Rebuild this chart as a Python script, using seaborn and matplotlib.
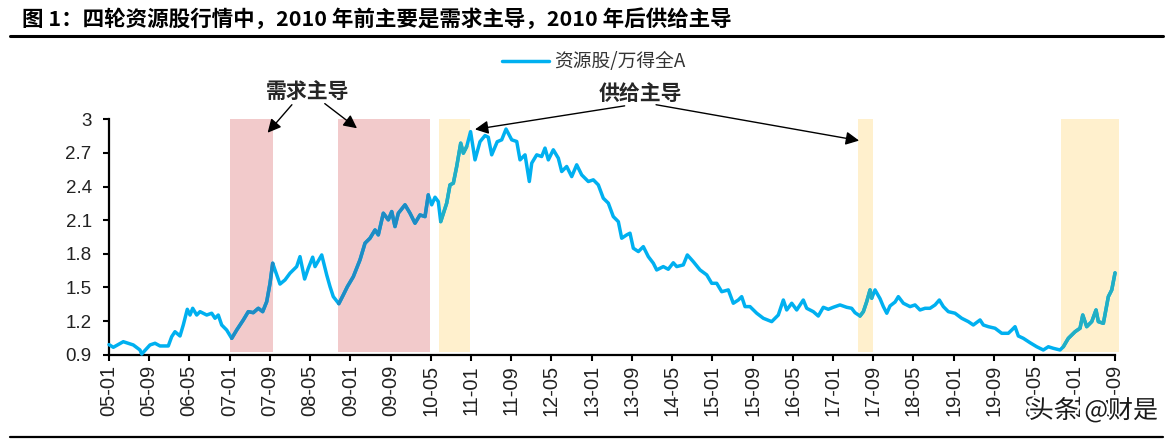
import numpy as np
import pandas as pd
import matplotlib
matplotlib.use("Agg")
import matplotlib.pyplot as plt
import seaborn as sns
from matplotlib.lines import Line2D
import matplotlib.patheffects as pe

# ---------------- data ----------------
# months elapsed since 2005-01-01
month_offset = [
    0.0, 0.86, 2.84, 4.83, 6.16, 6.50, 8.15, 9.15, 10.14, 11.79,
    12.47, 13.12, 14.12, 14.77, 15.57, 16.11, 16.64, 17.44, 18.10, 19.43,
    20.42, 21.08, 21.73, 22.41, 23.40, 24.40, 25.39, 26.71, 27.70, 28.69,
    29.69, 30.56, 31.36, 32.02, 32.55, 33.01, 34.00, 35.00, 35.99, 37.32,
    37.98, 38.90, 39.63, 40.50, 40.97, 42.30, 42.95, 43.29, 43.95, 44.60,
    45.70, 46.59, 47.40, 48.58, 49.91, 50.91, 51.90, 52.90, 53.55, 54.55,
    55.54, 56.22, 56.87, 57.53, 58.86, 59.86, 60.85, 61.84, 62.84, 63.49,
    64.17, 64.83, 65.48, 65.96, 67.15, 67.81, 68.47, 69.14, 69.94, 70.46,
    71.13, 71.90, 72.78, 73.77, 74.77, 75.42, 76.10, 77.20, 78.09, 78.95,
    80.08, 81.08, 81.73, 82.73, 83.58, 84.06, 85.05, 86.04, 86.70, 87.36,
    88.35, 89.35, 90.02, 91.01, 92.01, 93.00, 94.00, 95.31, 96.31, 97.30,
    98.29, 99.29, 100.28, 101.28, 101.95, 102.95, 103.60, 104.26, 105.26, 106.25,
    107.24, 108.24, 108.91, 110.22, 111.21, 112.21, 112.89, 114.20, 115.00, 116.19,
    117.53, 118.86, 119.85, 120.84, 121.84, 123.15, 124.14, 125.14, 125.81, 126.47,
    127.46, 128.80, 130.11, 131.78, 133.09, 134.09, 134.76, 135.76, 136.75, 138.06,
    138.74, 140.05, 141.04, 142.04, 143.03, 144.02, 145.36, 146.69, 147.68, 148.34,
    149.34, 150.00, 150.67, 151.33, 151.67, 152.33, 153.32, 153.98, 154.66, 155.31,
    156.31, 156.96, 157.96, 159.29, 160.28, 161.27, 162.27, 163.26, 164.26, 165.11,
    165.91, 166.90, 168.23, 169.56, 170.88, 171.87, 173.21, 173.86, 174.86, 176.19,
    177.52, 178.83, 179.51, 180.17, 180.82, 181.82, 183.15, 184.48, 185.79, 186.79,
    187.78, 189.11, 189.77, 190.76, 192.10, 193.09, 193.63, 194.42, 195.42, 196.27,
    196.73, 197.73, 198.72, 199.40, 200.05,
]
ratio = [
    0.990, 0.966, 1.016, 0.987, 0.942, 0.906, 0.987, 1.002, 0.978, 0.978,
    1.061, 1.105, 1.067, 1.165, 1.305, 1.254, 1.314, 1.254, 1.284, 1.254,
    1.270, 1.225, 1.254, 1.165, 1.120, 1.046, 1.120, 1.210, 1.284, 1.275,
    1.314, 1.284, 1.373, 1.537, 1.716, 1.656, 1.530, 1.567, 1.627, 1.686,
    1.775, 1.575, 1.671, 1.770, 1.686, 1.790, 1.671, 1.612, 1.507, 1.418,
    1.355, 1.433, 1.507, 1.596, 1.746, 1.895, 1.939, 2.013, 1.969, 2.162,
    2.103, 2.177, 2.043, 2.162, 2.237, 2.162, 2.073, 2.147, 2.132, 2.326,
    2.237, 2.305, 2.266, 2.087, 2.252, 2.415, 2.430, 2.579, 2.787, 2.698,
    2.757, 2.890, 2.638, 2.800, 2.855, 2.840, 2.683, 2.800, 2.817, 2.913,
    2.817, 2.802, 2.638, 2.683, 2.445, 2.609, 2.683, 2.668, 2.743, 2.638,
    2.728, 2.653, 2.534, 2.579, 2.489, 2.594, 2.504, 2.445, 2.460, 2.415,
    2.296, 2.252, 2.132, 2.087, 1.939, 1.969, 1.984, 1.850, 1.820, 1.864,
    1.775, 1.716, 1.656, 1.686, 1.662, 1.720, 1.686, 1.701, 1.790, 1.730,
    1.656, 1.612, 1.537, 1.537, 1.462, 1.478, 1.359, 1.388, 1.418, 1.329,
    1.329, 1.270, 1.225, 1.195, 1.254, 1.388, 1.299, 1.359, 1.299, 1.388,
    1.314, 1.284, 1.245, 1.323, 1.305, 1.323, 1.344, 1.323, 1.314, 1.275,
    1.245, 1.284, 1.373, 1.478, 1.404, 1.478, 1.400, 1.329, 1.270, 1.335,
    1.370, 1.418, 1.359, 1.329, 1.344, 1.299, 1.314, 1.314, 1.344, 1.388,
    1.329, 1.284, 1.270, 1.225, 1.195, 1.165, 1.210, 1.165, 1.150, 1.136,
    1.091, 1.091, 1.120, 1.150, 1.067, 1.046, 1.007, 0.971, 0.942, 0.971,
    0.957, 0.942, 0.971, 1.046, 1.105, 1.136, 1.254, 1.150, 1.195, 1.299,
    1.195, 1.180, 1.418, 1.478, 1.630,
]
series_name = "资源股/万得全A"

tick_labels = ["05-01", "05-09", "06-05", "07-01", "07-09", "08-05", "09-01",
               "09-09", "10-05", "11-01", "11-09", "12-05", "13-01", "13-09",
               "14-05", "15-01", "15-09", "16-05", "17-01", "17-09", "18-05",
               "19-01", "19-09", "20-05", "21-01", "21-09"]
ytick_values = [0.9, 1.2, 1.5, 1.8, 2.1, 2.4, 2.7, 3.0]
ytick_labels = ["0.9", "1.2", "1.5", "1.8", "2.1", "2.4", "2.7", "3"]

demand_periods = [("2007-01-01", "2007-09-20"), ("2008-10-15", "2010-04-25")]
supply_periods = [("2010-06-24", "2010-12-28"), ("2017-06-01", "2017-09-01"),
                  ("2020-10-12", "2021-09-25")]

title = "图 1：四轮资源股行情中，2010 年前主要是需求主导，2010 年后供给主导"
demand_label = "需求主导"
supply_label = "供给主导"
watermark = "头条 @财是"

# ---------------- styling ----------------
LINE_BLUE = "#00B0F0"
PINK = "#F2CACB"
YELLOW = "#FFF0CD"
LINE_IN_PINK = "#1E8CC4"
LINE_IN_YELLOW = "#22AFC4"

start = pd.Timestamp("2005-01-01")
dates = [start + pd.Timedelta(days=m * 30.4375) for m in month_offset]
df = pd.DataFrame({"date": dates, "ratio": ratio})

sns.set_style("ticks")
plt.rcParams["font.family"] = ["Noto Sans CJK SC", "DejaVu Sans"]

W, H = 1174, 443
fig = plt.figure(figsize=(W / 100, H / 100), dpi=100)
ax = fig.add_axes([109 / W, 1 - 354.7 / H, (1114.7 - 109) / W, (354.7 - 119.3) / H])

for a, b in demand_periods:
    ax.axvspan(pd.Timestamp(a), pd.Timestamp(b), ymin=0.012, ymax=1.0,
               color=PINK, lw=0, zorder=0, clip_on=False)
for a, b in supply_periods:
    ax.axvspan(pd.Timestamp(a), pd.Timestamp(b), ymin=0.012, ymax=1.0,
               color=YELLOW, lw=0, zorder=0, clip_on=False)

sns.lineplot(data=df, x="date", y="ratio", ax=ax, color=LINE_BLUE, lw=2.5,
             label=series_name, zorder=3, clip_on=False)

for periods, col in ((demand_periods, LINE_IN_PINK), (supply_periods, LINE_IN_YELLOW)):
    for a, b in periods:
        sub = df[(df["date"] >= pd.Timestamp(a)) & (df["date"] <= pd.Timestamp(b))]
        sns.lineplot(data=sub, x="date", y="ratio", ax=ax, color=col, lw=2.5,
                     zorder=4, clip_on=False)

ax.set_ylim(0.9, 3.0)
ax.set_yticks(ytick_values)
ax.set_yticklabels(ytick_labels)
tick_dates = [pd.Timestamp("20" + t + "-01") for t in tick_labels]
ax.set_xlim(start, tick_dates[-1])
ax.set_xticks(tick_dates)
ax.set_xticklabels(tick_labels, rotation=90)
ax.set_xlabel("")
ax.set_ylabel("")

for s in ("top", "right"):
    ax.spines[s].set_visible(False)
for s in ("left", "bottom"):
    ax.spines[s].set_linewidth(1.6)
    ax.spines[s].set_color("black")
ax.tick_params(axis="both", direction="out", length=4.5, width=1.5,
               colors="black", labelsize=13.5)
ax.tick_params(axis="y", pad=8)
ax.tick_params(axis="x", pad=3, labelsize=14.5)
for lab in ax.get_xticklabels() + ax.get_yticklabels():
    lab.set_fontfamily(["Liberation Sans", "DejaVu Sans"])
    lab.set_color("#222222")

leg = ax.legend(loc="center", bbox_to_anchor=(594 / W, 1 - 62 / H),
                bbox_transform=fig.transFigure, frameon=False, fontsize=13.5,
                handlelength=2.5, handletextpad=0.3)
for line in leg.get_lines():
    line.set_linewidth(2.5)
for t in leg.get_texts():
    t.set_color("#333333")

# annotations
ax.text(pd.Timestamp("2008-04-19"), 3.245, demand_label, ha="center", va="center",
        fontsize=15, fontweight="bold", clip_on=False)
ax.text(pd.Timestamp("2013-10-25"), 3.232, supply_label, ha="center", va="center",
        fontsize=15, fontweight="bold", clip_on=False)
arrows = [
    (("2008-01-13", 3.13), ("2007-08-19", 2.88)),
    (("2008-07-30", 3.14), ("2009-02-10", 2.92)),
    (("2013-07-19", 3.12), ("2011-01-25", 2.91)),
    (("2014-01-25", 3.13), ("2017-06-07", 2.81)),
]
for (sd, sv), (td, tv) in arrows:
    ax.annotate("", xy=(pd.Timestamp(td), tv), xytext=(pd.Timestamp(sd), sv),
                arrowprops=dict(arrowstyle="-|>", color="black", lw=1.0,
                                mutation_scale=20, shrinkA=0, shrinkB=0),
                annotation_clip=False)

# title and frame lines
fig.text(22 / W, 1 - 19 / H, title, fontsize=15.5, fontweight="bold",
         ha="left", va="center", color="black")
fig.add_artist(Line2D([10 / W, 1163 / W], [1 - 36 / H] * 2, lw=2.2, color="black",
                      transform=fig.transFigure))
fig.add_artist(Line2D([10 / W, 1163 / W], [1 - 437 / H] * 2, lw=1.6, color="black",
                      transform=fig.transFigure))

fig.text(1158 / W, 1 - 411 / H, watermark, ha="right", va="center", fontsize=18,
         color="#1a1a1a",
         path_effects=[pe.withStroke(linewidth=3, foreground="white")])

fig.savefig("out.png", dpi=100)
